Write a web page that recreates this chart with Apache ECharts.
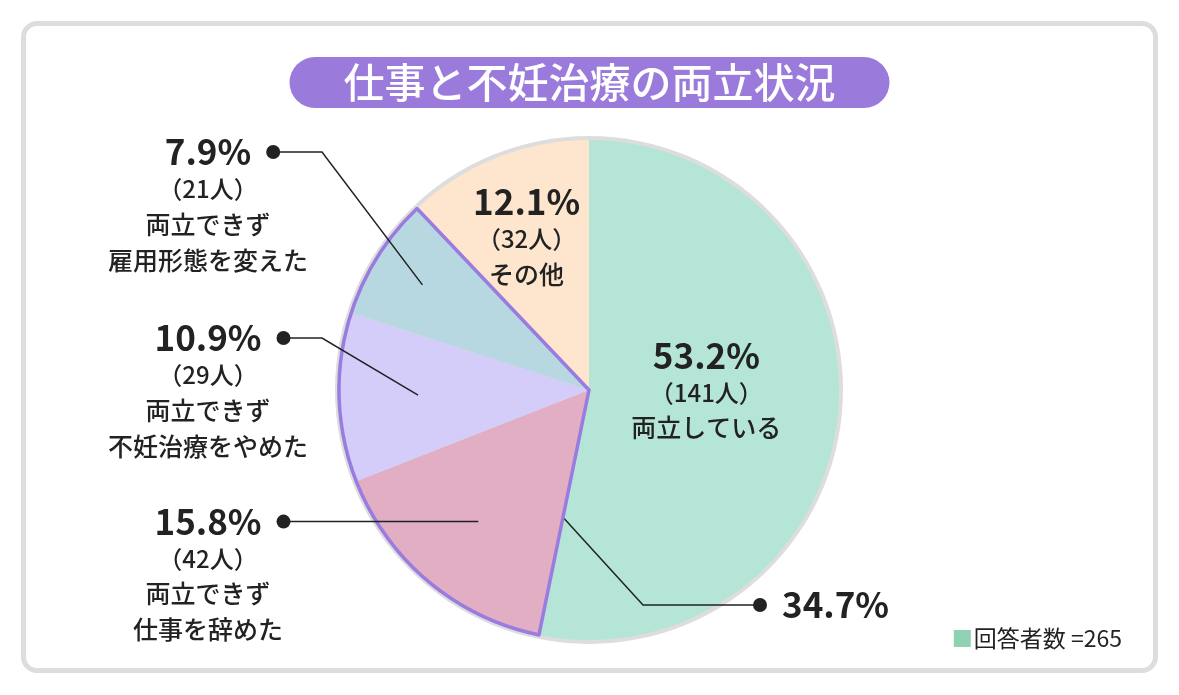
<!DOCTYPE html>
<html lang="ja">
<head>
<meta charset="utf-8">
<title>仕事と不妊治療の両立状況</title>
<script src="https://cdn.jsdelivr.net/npm/echarts@6/dist/echarts.min.js"></script>
<style>
html, body { margin: 0; padding: 0; background: #fff; }
#card { position: absolute; left: 21px; top: 21px; width: 1137px; height: 652px; box-sizing: border-box;
        border: 5px solid #dddddd; border-radius: 16px; background: #fff; }
#main { position: absolute; left: 0; top: 0; width: 1179px; height: 695px; }
</style>
</head>
<body>
<div id="card"></div>
<div id="main"></div>
<script>
// データ
var categories = ['両立している', '両立できず\n仕事を辞めた', '両立できず\n不妊治療をやめた', '両立できず\n雇用形態を変えた', 'その他'];
var counts = [141, 42, 29, 21, 32];
var percents = [53.2, 15.8, 10.9, 7.9, 12.1];
var groupIndex = [1, 2, 3];     // 両立できず
var groupPercent = 34.7;
var respondents = 265;

// レイアウト
var CX = 589, CY = 390, R = 250;
var FONT = 'Noto Sans CJK JP';
var P_SIZE = 35, P_LH = 40, GAP = 15, DOT = 14;
var COL_X = 208;
var outsideLabels = {
    1: { r: 172, lineY: null, elbowX: null },
    2: { r: 171, lineY: 338, elbowX: 322 },
    3: { r: 197, lineY: 152, elbowX: 322 }
};
var groupLabel = { r: 130, elbowX: 643, dotX: 760, y: 605 };

var total = counts.reduce(function (a, b) { return a + b; }, 0);
var start = [];
counts.reduce(function (acc, v, i) { start[i] = acc / total; return acc + v; }, 0);
var groupSum = groupIndex.reduce(function (a, i) { return a + counts[i]; }, 0);

function polar(frac, r) {
    var a = frac * 2 * Math.PI;
    return [CX + r * Math.sin(a), CY - r * Math.cos(a)];
}
var ctx = document.createElement('canvas').getContext('2d');
function textW(s) {
    ctx.font = '600 ' + P_SIZE + 'px "' + FONT + '"';
    return ctx.measureText(s).width;
}
function pct(v) { return v.toFixed(1) + '%'; }

var rich = {
    p: { fontFamily: FONT, fontSize: P_SIZE, fontWeight: 600, lineHeight: P_LH, color: '#222' },
    c: { fontFamily: FONT, fontSize: 24, fontWeight: 500, lineHeight: 34, color: '#222' },
    t: { fontFamily: FONT, fontSize: 25, fontWeight: 500, lineHeight: 36, color: '#222' },
    sp: { width: GAP + DOT, height: DOT },
    g: { width: GAP, height: DOT },
    d: { width: DOT, height: DOT, borderRadius: DOT / 2, backgroundColor: '#222' }
};

var colors = ['#b4e5d6', '#e1aec3', '#d4cdfa', '#b8d8e1', '#fee5cd'];

function labelText(i) {
    var first = outsideLabels[i]
        ? '{sp|}{p|' + pct(percents[i]) + '}{g|}{d|}'
        : '{p|' + pct(percents[i]) + '}';
    var lines = [first, '{c|（' + counts[i] + '人）}'];
    categories[i].split('\n').forEach(function (s) { lines.push('{t|' + s + '}'); });
    return lines.join('\n');
}

var myChart = echarts.init(document.getElementById('main'));

option = {
    animation: false,
    title: [
        {
            text: '仕事と不妊治療の両立状況',
            left: 'center',
            top: 57,
            backgroundColor: '#9a7bdb',
            borderRadius: 26,
            padding: [5, 54],
            textStyle: { color: '#fff', fontSize: 41, fontWeight: 500, fontFamily: FONT, lineHeight: 41 }
        },
        {
            text: '{sq|}{t|回答者数 =' + respondents + '}',
            right: 52,
            top: 622,
            textStyle: {
                rich: {
                    sq: { width: 17, height: 17, backgroundColor: '#8fd1b3' },
                    t: { fontFamily: FONT, fontSize: 23, fontWeight: 'normal', color: '#222', padding: [0, 0, 0, 3] }
                }
            }
        }
    ],
    series: [
        {
            // 外周のグレー
            type: 'pie',
            center: [CX, CY],
            radius: R + 4,
            silent: true,
            z: 1,
            label: { show: false },
            labelLine: { show: false },
            itemStyle: { color: '#dddddd', borderWidth: 0 },
            data: [{ value: total }]
        },
        {
            type: 'pie',
            center: [CX, CY],
            radius: R,
            startAngle: 90,
            clockwise: true,
            silent: true,
            z: 2,
            avoidLabelOverlap: false,
            itemStyle: { borderWidth: 0 },
            label: {
                show: true,
                position: 'inside',
                align: 'center',
                formatter: function (p) { return labelText(p.dataIndex); },
                rich: rich
            },
            labelLine: { show: false },
            labelLayout: function (p) {
                if (p.dataIndex === 0) return { dx: -10, dy: -12 };
                if (p.dataIndex === 4) return { dx: -15, dy: -34 };
                return {};
            },
            data: counts.map(function (v, i) {
                return {
                    name: categories[i],
                    value: v,
                    itemStyle: { color: colors[i] },
                    label: { show: !outsideLabels[i] }
                };
            })
        },
        {
            // 両立できず（3項目）の枠線
            type: 'pie',
            center: [CX, CY],
            radius: R,
            startAngle: 90,
            clockwise: true,
            silent: true,
            z: 3,
            avoidLabelOverlap: false,
            label: { show: false },
            labelLine: { show: false },
            labelLayout: function (p) {
                if (p.dataIndex !== 1) return {};
                var a = polar(start[groupIndex[0]], groupLabel.r);
                return {
                    x: groupLabel.dotX - DOT / 2,
                    y: groupLabel.y,
                    align: 'left',
                    verticalAlign: 'middle',
                    labelLinePoints: [a, [groupLabel.elbowX, groupLabel.y], [groupLabel.dotX, groupLabel.y]]
                };
            },
            data: [
                { value: counts[0], itemStyle: { color: 'rgba(0,0,0,0)', borderWidth: 0 } },
                {
                    value: groupSum,
                    itemStyle: { color: 'rgba(0,0,0,0)', borderColor: '#9a7be0', borderWidth: 3.5 },
                    label: {
                        show: true,
                        position: 'outside',
                        formatter: '{d|}{g|}{p|' + pct(groupPercent) + '}',
                        rich: rich
                    },
                    labelLine: { show: true, lineStyle: { color: '#222', width: 1.5 } }
                },
                { value: counts[4], itemStyle: { color: 'rgba(0,0,0,0)', borderWidth: 0 } }
            ]
        },
        {
            // 外側ラベルと引き出し線
            type: 'pie',
            center: [CX, CY],
            radius: R,
            startAngle: 90,
            clockwise: true,
            silent: true,
            z: 4,
            avoidLabelOverlap: false,
            itemStyle: { color: 'rgba(0,0,0,0)', borderWidth: 0 },
            label: {
                show: true,
                position: 'outside',
                align: 'center',
                formatter: function (p) { return labelText(p.dataIndex); },
                rich: rich
            },
            labelLine: { show: true, lineStyle: { color: '#222', width: 1.5 } },
            labelLayout: function (p) {
                var i = p.dataIndex;
                var o = outsideLabels[i];
                if (!o) return {};
                var a = polar(start[i] + counts[i] / total / 2, o.r);
                var y = o.lineY == null ? a[1] : o.lineY;
                var dotX = COL_X + textW(pct(percents[i])) / 2 + GAP + DOT / 2;
                var elbow = o.elbowX == null ? a : [o.elbowX, y];
                return {
                    x: COL_X,
                    y: y - P_LH / 2,
                    align: 'center',
                    verticalAlign: 'top',
                    labelLinePoints: [a, elbow, [dotX, y]]
                };
            },
            data: counts.map(function (v, i) {
                var show = !!outsideLabels[i];
                return { name: categories[i], value: v, label: { show: show }, labelLine: { show: show } };
            })
        }
    ]
};

myChart.setOption(option);
</script>
</body>
</html>
